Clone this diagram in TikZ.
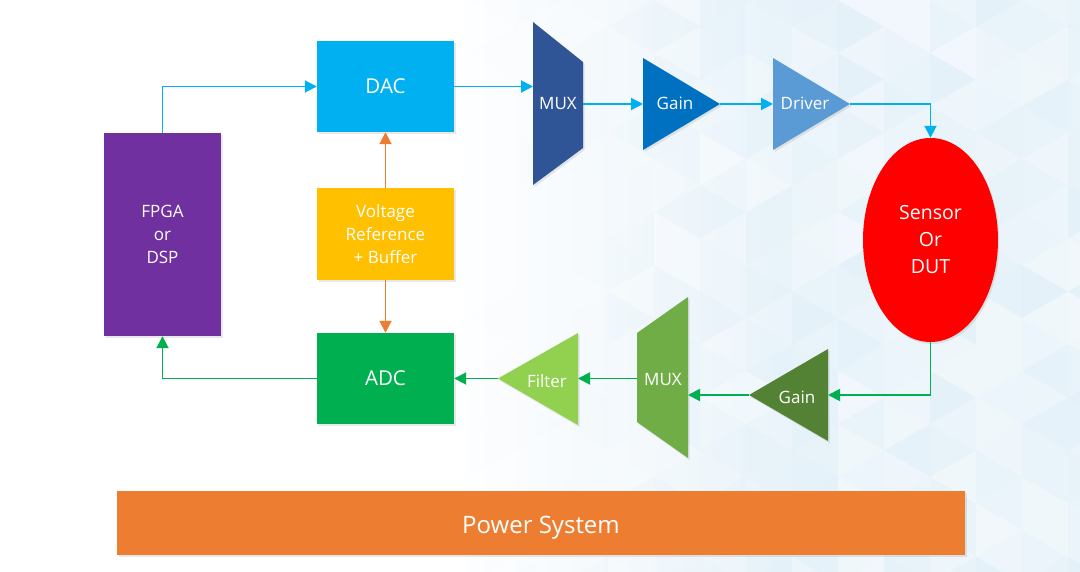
\documentclass[tikz,border=0pt]{standalone}
\usepackage{fontspec}
\setmainfont{Open Sans}
\usetikzlibrary{arrows.meta,shadows,shapes.geometric}
\definecolor{cdac}{HTML}{00B0F0}
\definecolor{cref}{HTML}{FFC000}
\definecolor{cadc}{HTML}{00B050}
\definecolor{cfpga}{HTML}{7030A0}
\definecolor{cmuxa}{HTML}{2F5597}
\definecolor{cgaina}{HTML}{0070C0}
\definecolor{cdrv}{HTML}{5B9BD5}
\definecolor{csens}{HTML}{FF0000}
\definecolor{cgainb}{HTML}{548235}
\definecolor{cmuxb}{HTML}{70AD47}
\definecolor{cfilt}{HTML}{92D050}
\definecolor{cpow}{HTML}{ED7D31}
\definecolor{cbg}{HTML}{E8F3FA}
\definecolor{ctri}{HTML}{D8EAF5}
\begin{document}
\begin{tikzpicture}[x=1pt,y=-1pt,
  shad/.style={drop shadow={opacity=0.18,shadow xshift=1.5pt,shadow yshift=-2pt}},
  box/.style={shad,inner sep=0pt,text=white,align=center,font=\fontsize{17}{23}\selectfont},
  lbl/.style={inner sep=0pt,text=white,font=\fontsize{17}{23}\selectfont},
  conn/.style={line width=1.9pt,-{Triangle[length=12pt,width=12pt]}},
  barrow/.style={conn,draw=cdac},
  garrow/.style={conn,draw=cadc},
  oarrow/.style={conn,draw=cpow}
]
\useasboundingbox (0,0) rectangle (1080,572);
% background
\fill[white] (0,0) rectangle (1080,572);
\shade[left color=white,right color=cbg] (450,0) rectangle (780,572);
\fill[cbg] (780,0) rectangle (1080,572);
\pgfmathsetseed{11}
\foreach \i in {0,...,13}{
  \foreach \j in {-1,...,11}{
    \pgfmathsetmacro{\xa}{470+\i*46}
    \pgfmathsetmacro{\xb}{\xa+46}
    \pgfmathsetmacro{\ya}{\j*53+mod(\i,2)*26.5}
    \pgfmathsetmacro{\yb}{\ya+53}
    \pgfmathsetmacro{\ym}{\ya+26.5}
    \pgfmathsetmacro{\yc}{\ya+79.5}
    \pgfmathsetmacro{\fa}{min(1,max(0,(\xa-450)/220))}
    \pgfmathsetmacro{\ra}{rnd}
    \pgfmathsetmacro{\rb}{rnd}
    \pgfmathsetmacro{\oa}{\ra<0.6 ? 0.7*\ra*\fa : 0.45*(\ra-0.6)*\fa}
    \pgfmathsetmacro{\ob}{\rb<0.6 ? 0.7*\rb*\fa : 0.45*(\rb-0.6)*\fa}
    \pgfmathsetmacro{\ca}{\ra<0.6 ? 1 : 0}
    \pgfmathsetmacro{\cb}{\rb<0.6 ? 1 : 0}
    \ifdim\ca pt>0.5pt
      \fill[white,opacity=\oa] (\xa,\ya) -- (\xa,\yb) -- (\xb,\ym) -- cycle;
    \else
      \fill[ctri,opacity=\oa] (\xa,\ya) -- (\xa,\yb) -- (\xb,\ym) -- cycle;
    \fi
    \ifdim\cb pt>0.5pt
      \fill[white,opacity=\ob] (\xb,\ym) -- (\xb,\yc) -- (\xa,\yb) -- cycle;
    \else
      \fill[ctri,opacity=\ob] (\xb,\ym) -- (\xb,\yc) -- (\xa,\yb) -- cycle;
    \fi
  }
}
\fill[white] (0,0) rectangle (450,572);

% rectangular blocks
\node[box,fill=cfpga,minimum width=117pt,minimum height=203pt] (fpga) at (162.5,234.5) {FPGA\\or\\DSP};
\node[box,fill=cdac,minimum width=137pt,minimum height=91pt,font=\fontsize{20.5}{24}\selectfont] (dac) at (385.5,86.5) {DAC};
\node[box,fill=cref,minimum width=137pt,minimum height=92pt] (vref) at (385.5,234) {Voltage\\Reference\\+ Buffer};
\node[box,fill=cadc,minimum width=137pt,minimum height=91pt,font=\fontsize{20.5}{24}\selectfont] (adc) at (385.5,378.5) {ADC};
\node[box,fill=csens,ellipse,minimum width=135pt,minimum height=204pt,font=\fontsize{19.5}{27}\selectfont] (sensor) at (930.5,240) {Sensor\\Or\\DUT};
\node[box,fill=cpow,minimum width=848pt,minimum height=64pt,text height=21pt,text depth=0pt,font=\fontsize{24}{28}\selectfont] (power) at (541,523) {Power System};

% forward path shapes
\fill[cmuxa,shad] (533,22) -- (583,62) -- (583,148) -- (533,185) -- cycle;
\node[lbl] (muxa) at (558,104) {MUX};
\coordinate (muxain) at (533,86.5);
\coordinate (muxaout) at (583,104);
\fill[cgaina,shad] (643,58) -- (720,104) -- (643,150) -- cycle;
\node[lbl] (gaina) at (675,103) {Gain};
\coordinate (gainain) at (643,104);
\coordinate (gainaout) at (720,104);
\fill[cdrv,shad] (773,58) -- (850,104) -- (773,150) -- cycle;
\node[lbl] (drv) at (805,103) {Driver};
\coordinate (drvin) at (773,104);
\coordinate (drvout) at (850,104);

% return path shapes
\fill[cgainb,shad] (828,349) -- (749,395) -- (828,441) -- cycle;
\node[lbl] (gainb) at (797,397) {Gain};
\coordinate (gainbin) at (828,395);
\coordinate (gainbout) at (749,395);
\fill[cmuxb,shad] (688,297) -- (688,458) -- (637,422) -- (637,333) -- cycle;
\node[lbl] (muxb) at (663,380) {MUX};
\coordinate (muxbin) at (688,395);
\coordinate (muxbout) at (637,378.5);
\fill[cfilt,shad] (578,333) -- (498,378.5) -- (578,425) -- cycle;
\node[lbl] (filt) at (547,381) {Filter};
\coordinate (filtin) at (578,378.5);
\coordinate (filtout) at (498,378.5);

% connectors
\draw[barrow] (fpga.north) |- (dac.west);
\draw[barrow] (dac.east) -- (muxain);
\draw[barrow] (muxaout) -- (gainain);
\draw[barrow] (gainaout) -- (drvin);
\draw[barrow] (drvout) -| (sensor.north);
\draw[garrow] (sensor.south) |- (gainbin);
\draw[garrow] (gainbout) -- (muxbin);
\draw[garrow] (muxbout) -- (filtin);
\draw[garrow] (filtout) -- (adc.east);
\draw[garrow] (adc.west) -| (fpga.south);
\draw[oarrow] (vref.north) -- (dac.south);
\draw[oarrow] (vref.south) -- (adc.north);
\end{tikzpicture}
\end{document}
